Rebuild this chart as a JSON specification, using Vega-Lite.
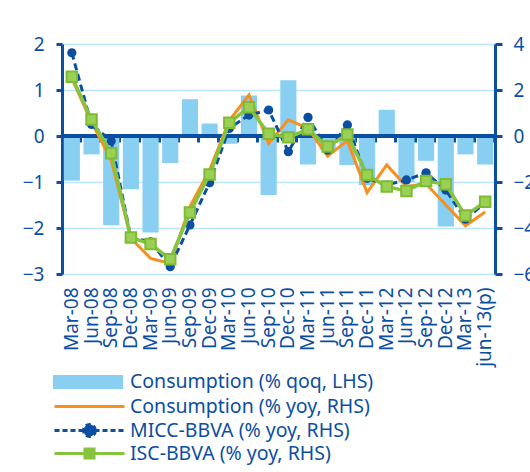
{
  "$schema": "https://vega.github.io/schema/vega-lite/v6.json",
  "width": 433,
  "height": 230,
  "autosize": {"type": "none"},
  "padding": {"left": 62, "top": 44, "right": 35, "bottom": 198},
  "config": {"view": {"stroke": null}, "font": "Noto Sans"},
  "data": {"values": [
    {"q": "Mar-08", "qoq": -0.97, "yoy": 2.5, "micc": 3.62, "isc": 2.58},
    {"q": "Jun-08", "qoq": -0.40, "yoy": 0.6, "micc": 0.5, "isc": 0.72},
    {"q": "Sep-08", "qoq": -1.94, "yoy": -1.05, "micc": -0.22, "isc": -0.75},
    {"q": "Dec-08", "qoq": -1.16, "yoy": -4.45, "micc": -4.42, "isc": -4.41},
    {"q": "Mar-09", "qoq": -2.10, "yoy": -5.32, "micc": -4.6, "isc": -4.70},
    {"q": "Jun-09", "qoq": -0.59, "yoy": -5.54, "micc": -5.68, "isc": -5.36},
    {"q": "Sep-09", "qoq": 0.80, "yoy": -3.07, "micc": -3.87, "isc": -3.33},
    {"q": "Dec-09", "qoq": 0.27, "yoy": -1.48, "micc": -2.03, "isc": -1.67},
    {"q": "Mar-10", "qoq": -0.17, "yoy": 0.67, "micc": 0.33, "isc": 0.58},
    {"q": "Jun-10", "qoq": 0.88, "yoy": 1.78, "micc": 0.91, "isc": 1.25},
    {"q": "Sep-10", "qoq": -1.28, "yoy": -0.32, "micc": 1.13, "isc": 0.1},
    {"q": "Dec-10", "qoq": 1.21, "yoy": 0.70, "micc": -0.68, "isc": -0.06},
    {"q": "Mar-11", "qoq": -0.62, "yoy": 0.33, "micc": 0.81, "isc": 0.29},
    {"q": "Jun-11", "qoq": -0.3, "yoy": -0.87, "micc": -0.61, "isc": -0.46},
    {"q": "Sep-11", "qoq": -0.63, "yoy": -0.2, "micc": 0.48, "isc": 0.07},
    {"q": "Dec-11", "qoq": -1.07, "yoy": -2.46, "micc": -1.84, "isc": -1.70},
    {"q": "Mar-12", "qoq": 0.57, "yoy": -1.26, "micc": -2.13, "isc": -2.20},
    {"q": "Jun-12", "qoq": -1.0, "yoy": -2.20, "micc": -1.91, "isc": -2.39},
    {"q": "Sep-12", "qoq": -0.54, "yoy": -2.08, "micc": -1.6, "isc": -1.96},
    {"q": "Dec-12", "qoq": -1.97, "yoy": -3.0, "micc": -2.35, "isc": -2.10},
    {"q": "Mar-13", "qoq": -0.40, "yoy": -3.9, "micc": -3.62, "isc": -3.46},
    {"q": "jun-13(p)", "qoq": -0.62, "yoy": -3.3, "micc": -2.9, "isc": -2.86}
  ]},
  "layer": [
    {
      "layer": [
        {
          "mark": {"type": "bar"},
          "encoding": {
            "x": {"field": "q", "type": "ordinal", "sort": null,
              "scale": {"paddingInner": 0.18, "paddingOuter": 0.09},
              "axis": {"orient": "bottom", "offset": -138, "labels": false, "title": null, "grid": false,
                "domainColor": "#0B4EA2", "domainWidth": 3, "tickColor": "#0B4EA2", "tickWidth": 3, "tickSize": 6, "tickBand": "extent"}},
            "y": {"field": "qoq", "type": "quantitative", "title": null,
              "scale": {"domain": [-3, 2], "nice": false, "zero": false},
              "axis": {"values": [-3, -2, -1, 0, 1, 2], "grid": true, "gridColor": "#BDE5F8", "gridWidth": 1.5,
                "domainColor": "#0B4EA2", "domainWidth": 3, "tickColor": "#0B4EA2", "tickWidth": 3, "tickSize": 6,
                "labelFontSize": 19, "labelColor": "#0B4EA2", "labelPadding": 12, "labelFont": "Noto Sans"}},
            "color": {"datum": "Consumption (% qoq, LHS)", "scale": {"range": ["#89CFF1"]},
              "legend": {"orient": "none", "legendX": -9, "legendY": 303, "title": null, "padding": 0,
                "symbolType": "M-1,-0.2H1V0.2H-1Z", "symbolSize": 4900, "symbolStrokeWidth": 0,
                "labelFontSize": 19.5, "labelColor": "#0B4EA2", "labelFont": "Noto Sans", "labelOffset": 7, "labelLimit": 0}}
          }
        },
        {
          "mark": {"type": "rule", "color": "#0B4EA2", "strokeWidth": 3},
          "encoding": {"y": {"datum": 0, "title": null}}
        }
      ]
    },
    {
      "encoding": {
        "x": {"field": "q", "type": "ordinal", "sort": null,
          "scale": {"paddingInner": 0.18, "paddingOuter": 0.09},
          "axis": {"orient": "bottom", "title": null, "domain": false, "ticks": false, "grid": false,
            "labelAngle": -90, "labelAlign": "right", "labelBaseline": "middle", "labelPadding": 13,
            "labelFontSize": 19, "labelColor": "#0B4EA2", "labelFont": "Noto Sans", "labelOverlap": false, "labelLimit": 0}}
      },
      "layer": [
        {
          "mark": {"type": "line", "strokeWidth": 3},
          "encoding": {
            "y": {"field": "yoy", "type": "quantitative", "title": null,
              "scale": {"domain": [-6, 4], "nice": false, "zero": false},
              "axis": {"orient": "right", "values": [-6, -4, -2, 0, 2, 4], "grid": false,
                "domainColor": "#0B4EA2", "domainWidth": 3, "tickColor": "#0B4EA2", "tickWidth": 3, "tickSize": 7,
                "labelFontSize": 19, "labelColor": "#0B4EA2", "labelPadding": 11, "labelFont": "Noto Sans"}},
            "color": {"datum": "Consumption (% yoy, RHS)", "scale": {"range": ["#F7901E"]},
              "legend": {"orient": "none", "legendX": -9, "legendY": 326, "title": null, "padding": 0,
                "symbolType": "M-1,0H1", "symbolSize": 4900, "symbolStrokeWidth": 3,
                "labelFontSize": 19.5, "labelColor": "#0B4EA2", "labelFont": "Noto Sans", "labelOffset": 4, "labelLimit": 0}}
          }
        },
        {
          "mark": {"type": "line", "strokeWidth": 3, "strokeDash": [7, 4]},
          "encoding": {
            "y": {"field": "micc", "type": "quantitative", "title": null},
            "color": {"datum": "MICC-BBVA (% yoy, RHS)", "scale": {"range": ["#0B4EA2"]},
              "legend": {"orient": "none", "legendX": -9, "legendY": 350, "title": null, "padding": 0,
                "symbolType": "M-1,0H1M0.17,0A0.17,0.17,0,1,1,-0.17,0A0.17,0.17,0,1,1,0.17,0Z", "symbolSize": 4900, "symbolStrokeWidth": 3,
                "symbolDash": [5, 3],
                "labelFontSize": 19.5, "labelColor": "#0B4EA2", "labelFont": "Noto Sans", "labelOffset": 4, "labelLimit": 0,
                "encode": {"symbols": {"update": {"fill": {"value": "#0B4EA2"}, "stroke": {"value": "#0B4EA2"}, "fillOpacity": {"value": 1}}}}}}
          }
        },
        {
          "mark": {"type": "point", "shape": "circle", "filled": true, "size": 85, "color": "#0B4EA2", "opacity": 1},
          "encoding": {"y": {"field": "micc", "type": "quantitative", "title": null}}
        },
        {
          "mark": {"type": "line", "strokeWidth": 3.5},
          "encoding": {
            "y": {"field": "isc", "type": "quantitative", "title": null},
            "color": {"datum": "ISC-BBVA (% yoy, RHS)", "scale": {"range": ["#86C440"]},
              "legend": {"orient": "none", "legendX": -9, "legendY": 373, "title": null, "padding": 0,
                "symbolType": "M-1,0H1M-0.13,-0.13H0.13V0.13H-0.13Z", "symbolSize": 4900, "symbolStrokeWidth": 3,
                "labelFontSize": 19.5, "labelColor": "#0B4EA2", "labelFont": "Noto Sans", "labelOffset": 4, "labelLimit": 0,
                "encode": {"symbols": {"update": {"fill": {"value": "#86C440"}, "stroke": {"value": "#86C440"}, "fillOpacity": {"value": 1}}}}}}
          }
        },
        {
          "mark": {"type": "point", "shape": "square", "filled": true, "size": 110, "fill": "#9BD153", "stroke": "#7DBB36", "strokeWidth": 2, "opacity": 1},
          "encoding": {"y": {"field": "isc", "type": "quantitative", "title": null}}
        }
      ],
      "resolve": {"scale": {"color": "independent"}}
    }
  ],
  "resolve": {"scale": {"y": "independent", "color": "independent"}, "axis": {"x": "independent"}}
}
